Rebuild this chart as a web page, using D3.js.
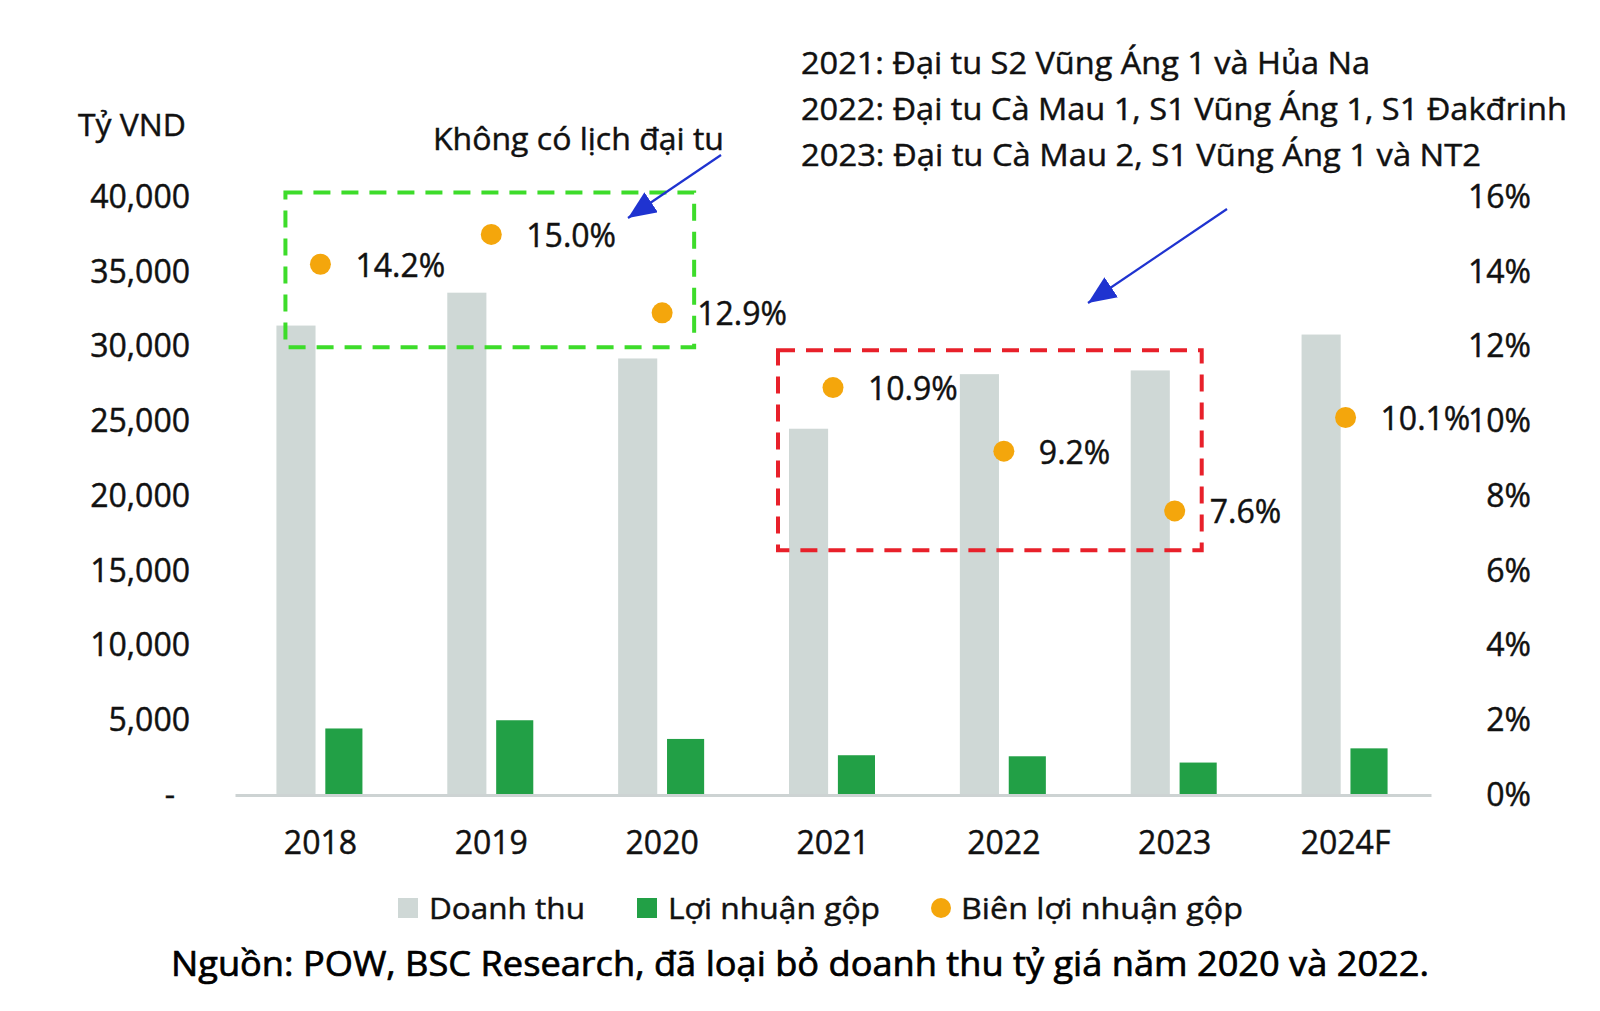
<!DOCTYPE html>
<html><head><meta charset="utf-8">
<script src="https://cdn.jsdelivr.net/npm/d3@7"></script>
<style>
html,body{margin:0;padding:0;background:#fff;}
svg{display:block;}
text{font-family:"Open Sans","Noto Sans",sans-serif;fill:#111;stroke:#111;stroke-width:0.45px;}
</style></head>
<body>
<svg id="chart" width="1600" height="1011"></svg>
<script>
// ---- data ----
const categories = ["2018","2019","2020","2021","2022","2023","2024F"];
const revenue = [31400, 33600, 29200, 24500, 28150, 28400, 30800];      // Doanh thu
const grossProfit = [4450, 5000, 3750, 2660, 2590, 2170, 3120];        // Lợi nhuận gộp
const grossMargin = [0.142, 0.150, 0.129, 0.109, 0.092, 0.076, 0.101]; // Biên lợi nhuận gộp
const leftTicks = [0, 5000, 10000, 15000, 20000, 25000, 30000, 35000, 40000];
const rightTicks = [0, 0.02, 0.04, 0.06, 0.08, 0.10, 0.12, 0.14, 0.16];
const seriesNames = ["Doanh thu", "Lợi nhuận gộp", "Biên lợi nhuận gộp"];
const unitLabel = "Tỷ VND";
const noteGreen = "Không có lịch đại tu";
const noteLines = [
  "2021: Đại tu S2 Vũng Áng 1 và Hủa Na",
  "2022: Đại tu Cà Mau 1, S1 Vũng Áng 1, S1 Đakđrinh",
  "2023: Đại tu Cà Mau 2, S1 Vũng Áng 1 và NT2"
];
const sourceText = "Nguồn: POW, BSC Research, đã loại bỏ doanh thu tỷ giá năm 2020 và 2022.";

// ---- styles ----
const C = {rev:"#cfd8d6", gp:"#22a046", dot:"#f4a60c", axis:"#cdd3d3", green:"#3ddc2a", red:"#e8202a", blue:"#1f33d0"};

const svg = d3.select("#chart");
const x0 = 235, x1 = 1431, yBase = 795, yTop = 197;

const x = d3.scaleBand().domain(categories).range([x0, x1]);
const xs = d3.scaleBand().domain(["rev","gp"]).range([-44, 44]).paddingInner(0.2);
const yL = d3.scaleLinear().domain([0, 40000]).range([yBase, yTop]);
const yR = d3.scaleLinear().domain([0, 0.16]).range([yBase, yTop]);
const cx = c => x(c) + x.bandwidth()/2;

// bars
const g = svg.append("g");
g.selectAll("rect.rev").data(categories).join("rect").attr("class","rev")
  .attr("x", (c)=>cx(c)+xs("rev")).attr("width", xs.bandwidth())
  .attr("y", (c,i)=>yL(revenue[i])).attr("height",(c,i)=>yBase-yL(revenue[i]))
  .attr("fill", C.rev);
g.selectAll("rect.gp").data(categories).join("rect").attr("class","gp")
  .attr("x", (c)=>cx(c)+xs("gp")).attr("width", xs.bandwidth()-2)
  .attr("y", (c,i)=>yL(grossProfit[i])).attr("height",(c,i)=>yBase-yL(grossProfit[i]))
  .attr("fill", C.gp);

// bottom axis
const ax = svg.append("g").attr("transform",`translate(0,${yBase})`)
  .call(d3.axisBottom(x).tickSize(0).tickPadding(36));
ax.select(".domain").attr("stroke", C.axis).attr("stroke-width", 3);
ax.selectAll("text").style("font-size","32px").style("fill","#111");

// left axis
const al = svg.append("g").attr("transform",`translate(${x0},0)`)
  .call(d3.axisLeft(yL).tickValues(leftTicks).tickSize(0).tickPadding(45)
    .tickFormat(d => d===0 ? "-" : d3.format(",")(d)));
al.select(".domain").remove();
al.selectAll("text").style("font-size","32px").style("fill","#111");
al.selectAll(".tick").filter(d=>d===0).select("text").attr("x",-60);

// right axis
const ar = svg.append("g").attr("transform",`translate(${x1},0)`)
  .call(d3.axisRight(yR).tickValues(rightTicks).tickSize(0).tickFormat(d3.format(".0%")));
ar.select(".domain").remove();
ar.selectAll("text").attr("text-anchor","end").attr("x",100).style("font-size","32px").style("fill","#111");

// annotation boxes (behind dots)
const boxes = [
  {c0:"2018", dx0:-35, c1:"2020", dx1:32, v0:0.1612, v1:0.1198, color:C.green},
  {c0:"2021", dx0:-55, c1:"2023", dx1:27, v0:0.1190, v1:0.0655, color:C.red}
];
svg.append("g").selectAll("rect").data(boxes).join("rect")
  .attr("x", d=>cx(d.c0)+d.dx0).attr("y", d=>yR(d.v0))
  .attr("width", d=>cx(d.c1)+d.dx1-(cx(d.c0)+d.dx0))
  .attr("height", d=>yR(d.v1)-yR(d.v0))
  .attr("fill","none").attr("stroke", d=>d.color).attr("stroke-width",4)
  .attr("stroke-dasharray","17,11");

// dots + labels
const dg = svg.append("g");
dg.selectAll("circle").data(categories).join("circle")
  .attr("cx", c=>cx(c)).attr("cy",(c,i)=>yR(grossMargin[i])).attr("r",10.5).attr("fill",C.dot);
dg.selectAll("text").data(categories).join("text")
  .attr("x", c=>cx(c)+35).attr("y",(c,i)=>yR(grossMargin[i])+1).attr("dy","0.36em")
  .style("font-size","32px").text((c,i)=>d3.format(".1%")(grossMargin[i]));

// unit label
svg.append("text").attr("x",186).attr("y",125).attr("dy","0.36em").attr("text-anchor","end")
  .attr("textLength",108).attr("lengthAdjust","spacingAndGlyphs")
  .style("font-size","31px").text(unitLabel);

// notes
svg.append("text").attr("x",433).attr("y",139).attr("dy","0.36em")
  .attr("textLength",291).attr("lengthAdjust","spacingAndGlyphs")
  .style("font-size","31px").text(noteGreen);
const noteW = [569, 766, 680];
svg.append("g").selectAll("text").data(noteLines).join("text")
  .attr("x",801).attr("y",(d,i)=>63+i*46).attr("dy","0.36em")
  .attr("textLength",(d,i)=>noteW[i]).attr("lengthAdjust","spacingAndGlyphs")
  .style("font-size","31px").text(d=>d);

// arrows
const defs = svg.append("defs");
defs.append("marker").attr("id","ah").attr("markerUnits","userSpaceOnUse")
  .attr("markerWidth",30).attr("markerHeight",26).attr("refX",28).attr("refY",12)
  .attr("orient","auto").append("path").attr("d","M0,0 L28,12 L0,24 Z").attr("fill",C.blue);
const arrows = [{x1:721,y1:155,x2:628,y2:218},{x1:1227,y1:209,x2:1088,y2:303}];
svg.append("g").selectAll("line").data(arrows).join("line")
  .attr("x1",d=>d.x1).attr("y1",d=>d.y1).attr("x2",d=>d.x2).attr("y2",d=>d.y2)
  .attr("stroke",C.blue).attr("stroke-width",2.2).attr("marker-end","url(#ah)");

// legend
const legend = [
  {name:seriesNames[0], type:"rect", color:C.rev, mx:398, tx:429, w:156},
  {name:seriesNames[1], type:"rect", color:C.gp, mx:637, tx:668, w:212},
  {name:seriesNames[2], type:"circle", color:C.dot, mx:931, tx:961, w:282}
];
const ly = 908;
const lg = svg.append("g");
legend.forEach(l=>{
  if(l.type==="rect") lg.append("rect").attr("x",l.mx).attr("y",ly-10).attr("width",20).attr("height",20).attr("fill",l.color);
  else lg.append("circle").attr("cx",l.mx+10).attr("cy",ly).attr("r",10).attr("fill",l.color);
  lg.append("text").attr("x",l.tx).attr("y",ly).attr("dy","0.36em")
    .attr("textLength",l.w).attr("lengthAdjust","spacingAndGlyphs")
    .style("font-size","30px").text(l.name);
});

// source
svg.append("text").attr("x",171).attr("y",964).attr("dy","0.36em")
  .attr("textLength",1258).attr("lengthAdjust","spacingAndGlyphs")
  .style("font-size","34px").style("fill","#000").style("stroke","#000").style("stroke-width","0.7px").text(sourceText);
</script>
</body></html>
